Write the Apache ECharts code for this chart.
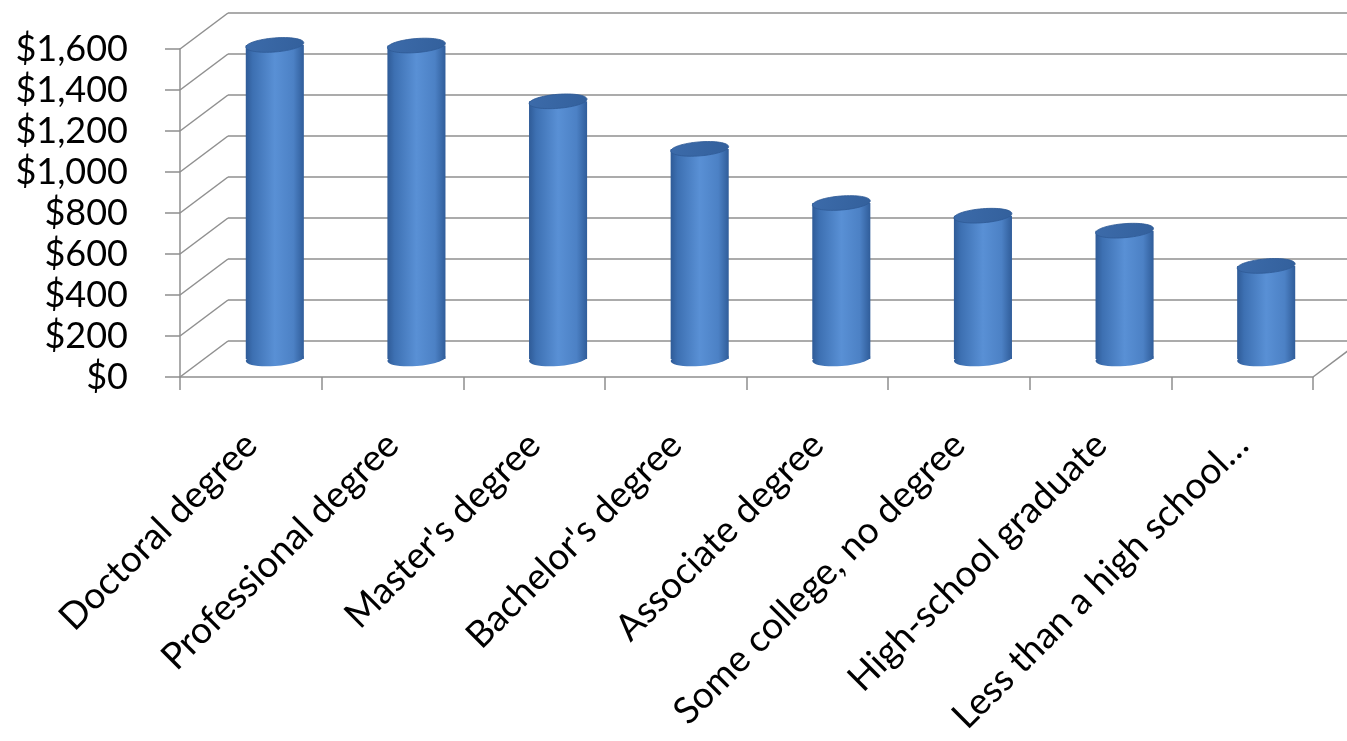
<!DOCTYPE html>
<html>
<head>
<meta charset="utf-8">
<script src="https://cdn.jsdelivr.net/npm/echarts@6/dist/echarts.min.js"></script>
<style>
  html, body { margin: 0; padding: 0; background: #ffffff; }
  #chart { width: 1347px; height: 741px; }
</style>
</head>
<body>
<div id="chart"></div>
<script>
// ---- data ----
const categories = [
  "Doctoral degree",
  "Professional degree",
  "Master's degree",
  "Bachelor's degree",
  "Associate degree",
  "Some college, no degree",
  "High-school graduate",
  "Less than a high school…"
];
const weeklyEarnings = [1532, 1529, 1257, 1025, 761, 699, 626, 454];
const yTicks = [0, 200, 400, 600, 800, 1000, 1200, 1400, 1600];

// ---- styling / geometry constants ----
const DEPTH_X = 48, DEPTH_Y = -36;    // 3D depth offset front -> back wall
const GRID_LEFT = 180, GRID_TOP = 49, GRID_RIGHT = 34, GRID_BOTTOM = 364;
const LINE = '#8f8f8f';
const FONT = 'Lato, "Open Sans", sans-serif';

const chart = echarts.init(document.getElementById('chart'), null, { renderer: 'canvas' });

function fmt(v) { return '$' + v.toLocaleString('en-US'); }

const option = {
  backgroundColor: '#ffffff',
  animation: false,
  grid: [
    { left: GRID_LEFT, top: GRID_TOP, right: GRID_RIGHT, bottom: GRID_BOTTOM, containLabel: false },
    { left: GRID_LEFT + DEPTH_X, top: GRID_TOP + DEPTH_Y, right: GRID_RIGHT - DEPTH_X, bottom: GRID_BOTTOM - DEPTH_Y, containLabel: false }
  ],
  xAxis: [
    {
      gridIndex: 0, type: 'category', data: categories,
      axisLine: { show: true, lineStyle: { color: LINE, width: 1.5 } },
      axisTick: { show: true, length: 13, lineStyle: { color: LINE, width: 1.5 } },
      axisLabel: { rotate: 45, margin: 62, fontSize: 37, fontFamily: FONT, color: '#000', interval: 0 },
      splitLine: { show: false }
    },
    {
      gridIndex: 1, type: 'category', data: categories, show: false
    }
  ],
  yAxis: [
    {
      gridIndex: 0, type: 'value', min: 0, max: 1600, interval: 200,
      axisLine: { show: true, lineStyle: { color: LINE, width: 1.5 } },
      axisTick: { show: true, length: 15, lineStyle: { color: LINE, width: 1.5 } },
      axisLabel: { margin: 52, fontSize: 36, fontFamily: FONT, color: '#000', formatter: fmt },
      splitLine: { show: false }
    },
    {
      gridIndex: 1, type: 'value', min: 0, max: 1600, interval: 200,
      axisLine: { show: false }, axisTick: { show: false }, axisLabel: { show: false },
      splitLine: { show: true, lineStyle: { color: LINE, width: 1.5 } }
    }
  ],
  series: [
    {
      // side-wall diagonals joining the front axis ticks to the back-wall gridlines, plus floor right edge
      type: 'custom',
      xAxisIndex: 0, yAxisIndex: 0,
      clip: false, silent: true, z: 1,
      data: yTicks.map(t => [0, t]),
      renderItem: function (params, api) {
        const cs = params.coordSys;
        const y = api.coord([0, api.value(1)])[1];
        const children = [{
          type: 'line',
          shape: { x1: cs.x, y1: y, x2: cs.x + DEPTH_X, y2: y + DEPTH_Y },
          style: { stroke: LINE, lineWidth: 1.5 }
        }];
        if (api.value(1) === 0) {
          children.push({
            type: 'line',
            shape: { x1: cs.x + cs.width, y1: y, x2: cs.x + cs.width + DEPTH_X, y2: y + DEPTH_Y },
            style: { stroke: LINE, lineWidth: 1.5 }
          });
        }
        return { type: 'group', children: children };
      }
    },
    {
      // cylinders
      type: 'custom',
      xAxisIndex: 0, yAxisIndex: 0,
      clip: false, z: 3,
      data: weeklyEarnings.map((v, i) => [i, v]),
      renderItem: function (params, api) {
        const i = api.value(0), v = api.value(1);
        const base = api.coord([i, 0]);
        const top = api.coord([i, v]);
        const cx = base[0] + DEPTH_X / 2;
        const by = base[1] + DEPTH_Y / 2;
        const ty = top[1] + DEPTH_Y / 2;
        const w = api.size([1, 0])[0] * 0.41;
        const rx = w / 2, ry = 7;
        const bodyFill = new echarts.graphic.LinearGradient(0, 0, 1, 0, [
          { offset: 0, color: '#2f5b97' },
          { offset: 0.12, color: '#3d70b2' },
          { offset: 0.5, color: '#5990d5' },
          { offset: 0.82, color: '#4c81c5' },
          { offset: 1, color: '#305d9a' }
        ]);
        const topFill = new echarts.graphic.LinearGradient(0, 0, 1, 1, [
          { offset: 0, color: '#3c6baa' },
          { offset: 1, color: '#33609c' }
        ]);
        const tilt = 0.08;
        return {
          type: 'group',
          children: [
            {
              type: 'ellipse',
              shape: { cx: cx, cy: by, rx: rx, ry: ry },
              rotation: tilt, originX: cx, originY: by,
              style: { fill: bodyFill }
            },
            {
              type: 'rect',
              shape: { x: cx - rx, y: ty, width: w, height: by - ty },
              style: { fill: bodyFill }
            },
            {
              type: 'ellipse',
              shape: { cx: cx, cy: ty, rx: rx, ry: ry },
              rotation: tilt, originX: cx, originY: ty,
              style: { fill: topFill, stroke: '#2f5b96', lineWidth: 0.8 }
            }
          ]
        };
      }
    }
  ]
};

chart.setOption(option);
</script>
</body>
</html>
